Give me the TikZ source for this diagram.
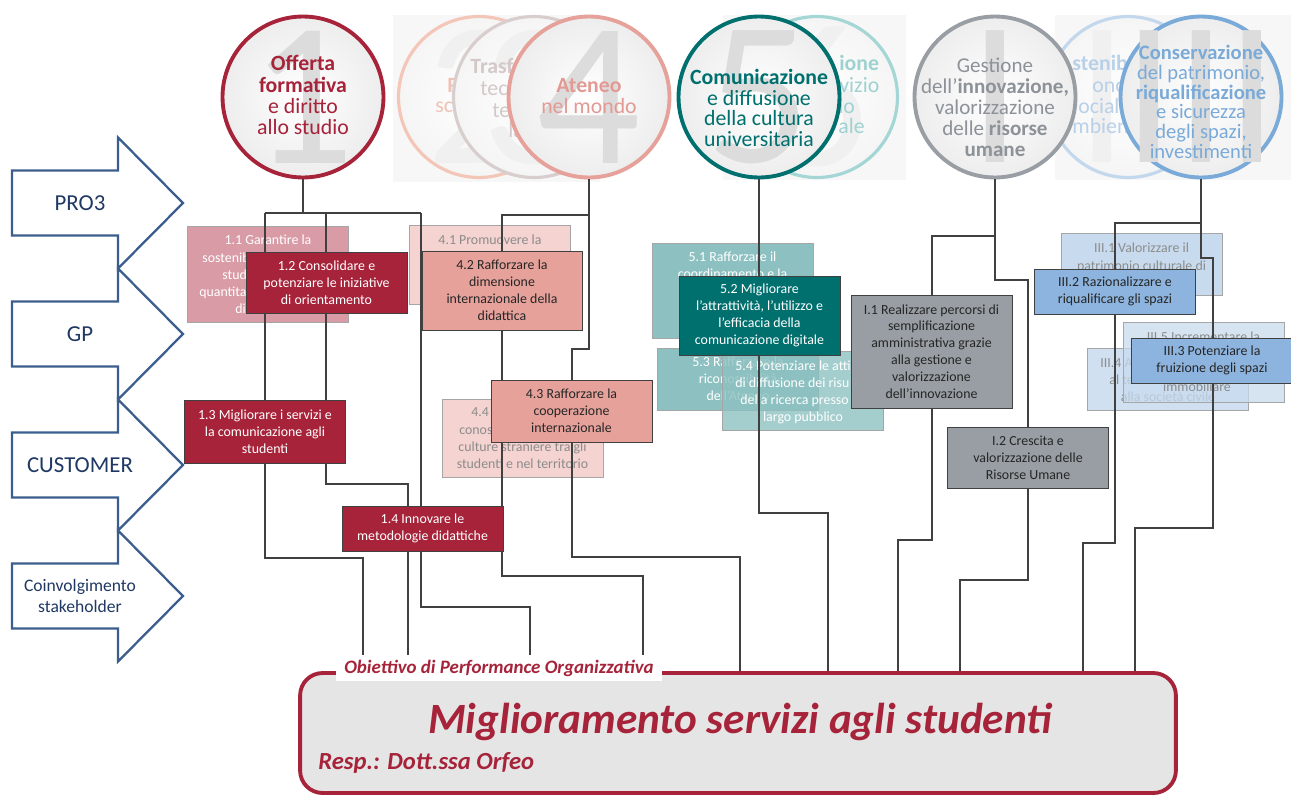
\documentclass[tikz,border=0pt]{standalone}
\usepackage{fontspec}
\setmainfont{Carlito}
\usetikzlibrary{positioning,calc}

\definecolor{unired}{HTML}{A6233A}
\definecolor{unipink}{HTML}{D99BA6}
\definecolor{unisalmon}{HTML}{E6A19B}
\definecolor{salmontxt}{HTML}{E39A94}
\definecolor{unisalmonlt}{HTML}{F4D3D1}
\definecolor{uniteal}{HTML}{00706F}
\definecolor{unitealt}{HTML}{8DC0C0}
\definecolor{unigray}{HTML}{989EA3}
\definecolor{unigraytxt}{HTML}{8C9297}
\definecolor{uniblue}{HTML}{8DB4DE}
\definecolor{unibluetxt}{HTML}{7AAAD8}
\definecolor{unibluelt}{HTML}{C8DBEE}
\definecolor{lanecol}{HTML}{3B5E8E}
\definecolor{lanetxt}{HTML}{1F3864}
\definecolor{wirecol}{HTML}{404040}
\definecolor{numcol}{HTML}{DCDCDC}
\definecolor{fadetxt}{HTML}{8C8C8C}
\definecolor{c2col}{HTML}{F3C6B8}
\definecolor{c2txt}{HTML}{F0C2B4}
\definecolor{c3col}{HTML}{D9CECE}
\definecolor{c3txt}{HTML}{D4C8C8}
\definecolor{c6col}{HTML}{A3D6D4}
\definecolor{c6txt}{HTML}{9ED2D0}
\definecolor{cIIcol}{HTML}{C3D8EC}
\definecolor{cIItxt}{HTML}{B9D0E9}

\newcommand{\boxfont}{\fontsize{7.9}{9.6}\selectfont}
\newcommand{\circfont}{\fontsize{12.4}{12}\selectfont}
\newcommand{\numfont}{\fontsize{117}{117}\selectfont}

\pgfdeclarelayer{back}
\pgfdeclarelayer{wires}
\pgfsetlayers{back,wires,main}

\tikzset{
    wire/.style={draw=wirecol, line width=1.6pt},
    lane/.style={draw=lanecol, line width=1.3pt, fill=white},
    lanetext/.style={text=lanetxt, align=center, inner sep=0pt},
    circ/.style={circle, minimum size=3.22cm, inner sep=0pt, line width=2.2pt, shade, shading=radial, inner color=white, outer color=black!7},
    circ faded/.style={circ, line width=1.8pt, outer color=black!4},
    numeral/.style={text=numcol, font=\numfont, inner sep=0pt},
    numeral faded/.style={numeral, text=black!6},
    circtext/.style={align=center, inner sep=0pt, font=\circfont},
    frag/.style={inner sep=0pt, anchor=base west, font=\circfont},
    goal/.style={rectangle, draw=black!75, line width=0.5pt, minimum width=3.22cm, align=center, inner sep=1pt, font=\boxfont, text=black!85},
    goal faded/.style={goal, draw=black!35},
    boxfrag/.style={inner sep=0pt, anchor=base west, font=\boxfont},
    boxline/.style={inner sep=0pt, anchor=base, font=\boxfont},
    objbox/.style={rectangle, rounded corners=0.45cm, draw=unired, line width=2.2pt, fill=black!10, minimum width=17.52cm, minimum height=2.4cm},
    objlabel/.style={fill=white, text=unired, font=\fontsize{10.8}{12}\selectfont\bfseries\itshape, minimum width=6.52cm, minimum height=0.52cm, inner sep=0pt}
}

\begin{document}
\begin{tikzpicture}[x=0.02cm, y=-0.02cm]
    \useasboundingbox (0,0) rectangle (1291,795);

    \begin{pgfonlayer}{back}
    \fill[black!3] (393,15) rectangle (600,182);
    \fill[black!3] (723,15) rectangle (906,180);
    \fill[black!3] (1055,15) rectangle (1291,180);

    % areas 2, 3, 4
    \node[circ faded, draw=c2col] (c2) at (479,97) {};
    \node[numeral faded] (n2) at (c2) {2};
    \node[frag, text=c2txt, font=\circfont\bfseries] (f2a) at (447,92) {R};
    \node[frag, text=c2txt] (f2b) at (435,112) {sc};

    \node[circ faded, draw=c3col] (c3) at (534,97) {};
    \node[numeral faded] (n3) at (c3) {3};
    \node[frag, text=c3txt, font=\circfont\bfseries] (f3a) at (470,73) {Trasf};
    \node[frag, text=c3txt] (f3b) at (480,95) {tec};
    \node[frag, text=c3txt] (f3c) at (492,117) {te};
    \node[frag, text=c3txt] (f3d) at (508,137) {la};

    \node[circ, draw=unisalmon] (c4) at (589,97) {};
    \node[numeral] (n4) at (c4) {4};
    \node[circtext, text=salmontxt] (t4) at (589,96) {\textbf{Ateneo}\\nel mondo};

    % area 1
    \node[circ, draw=unired] (c1) at (303,97) {};
    \node[numeral] (n1) at (c1) {1};
    \node[circtext, text=unired] (t1) at (303,95) {\textbf{Offerta}\\\textbf{formativa}\\e diritto\\allo studio};

    % areas 5, 6
    \node[circ faded, draw=c6col] (c6) at (817,97) {};
    \node[numeral faded] (n6) at (c6) {6};
    \node[frag, text=c6txt, font=\circfont\bfseries] (f6a) at (839,70) {ione};
    \node[frag, text=c6txt] (f6b) at (839,92) {vizio};
    \node[frag, text=c6txt] (f6c) at (838,113) {io};
    \node[frag, text=c6txt] (f6d) at (838,133) {ale};

    \node[circ, draw=uniteal] (c5) at (759,97) {};
    \node[numeral] (n5) at (c5) {5};
    \node[circtext, text=uniteal, font=\fontsize{12.4}{11.7}\selectfont] (t5) at (759,108) {\textbf{Comunicazione}\\e diffusione\\della cultura\\universitaria};

    % areas I, II, III
    \node[circ faded, draw=cIIcol] (cII) at (1128,97) {};
    \node[numeral faded] (nII) at (cII) {II};
    \node[frag, text=cIItxt, font=\circfont\bfseries] (fIIa) at (1072,70) {stenib};
    \node[frag, text=cIItxt] (fIIb) at (1092,92) {onom};
    \node[frag, text=cIItxt] (fIIc) at (1078,113) {ociale};
    \node[frag, text=cIItxt] (fIId) at (1072,133) {mbient};

    \node[circ, draw=unigray] (cI) at (995,97) {};
    \node[numeral] (nI) at (cI) {I};
    \node[circtext, text=unigraytxt, font=\fontsize{12}{12}\selectfont] (tI) at (995,107) {Gestione\\dell’\textbf{innovazione,}\\valorizzazione\\delle \textbf{risorse}\\\textbf{umane}};

    \node[circ, draw=unibluetxt] (cIII) at (1201,97) {};
    \node[numeral] (nIII) at (cIII) {III};
    \node[circtext, text=unibluetxt, font=\fontsize{11.7}{11.2}\selectfont] (tIII) at (1201,102) {\textbf{Conservazione}\\del patrimonio,\\\textbf{riqualificazione}\\e sicurezza\\degli spazi,\\investimenti};

    % faded goals
    \node[goal faded, fill=unipink, minimum height=1.92cm] (b11) at (268,274) {};
    \node[boxline, text=white] (b11a) at (268,244) {1.1 Garantire la};
    \node[boxfrag, text=white] (b11b) at (202,262) {sostenib};
    \node[boxfrag, text=white] (b11c) at (222,279) {stud};
    \node[boxfrag, text=white] (b11d) at (199,296) {quantita};
    \node[boxfrag, text=white] (b11e) at (235,313) {di};

    \node[goal faded, fill=unisalmonlt, minimum height=1.58cm] (b41) at (490,264.5) {};
    \node[boxline, text=fadetxt] (b41a) at (490,244) {4.1 Promuovere la};

    \node[goal faded, fill=unisalmonlt, minimum height=1.56cm] (b44) at (522.5,438) {};
    \node[boxfrag, text=fadetxt] (b44a) at (471,416) {4.4};
    \node[boxfrag, text=fadetxt] (b44b) at (459,434) {conos};
    \node[boxline, text=fadetxt] (b44c) at (522.5,451) {culture straniere tra gli};
    \node[boxline, text=fadetxt] (b44d) at (522.5,468) {studenti e nel territorio};

    \node[goal faded, fill=unitealt, minimum height=1.9cm] (b51) at (732.5,290.5) {};
    \node[boxline, text=white] (b51a) at (732.5,261) {5.1 Rafforzare il};
    \node[boxline, text=white] (b51b) at (732.5,278) {coordinamento e la};

    \node[goal faded, fill=unitealt, text=white, minimum height=1.24cm] (b53) at (738,379) {5.3 Rafforzare la\\riconoscibilità\\dell’Ateneo};

    \node[goal faded, fill=unitealt, fill opacity=0.8, minimum height=1.58cm] (b54) at (803,390.5) {};
    \node[boxfrag, text=white] (b54a) at (735,370) {5.4 Potenziare le atti};
    \node[boxfrag, text=white] (b54b) at (735,387) {di diffusione dei risu};
    \node[boxfrag, text=white] (b54c) at (740,404) {della ricerca presso};
    \node[boxline, text=white] (b54d) at (803,421) {largo pubblico};

    \node[goal faded, fill=unibluelt, minimum height=1.24cm] (bIII1) at (1141.5,264) {};
    \node[boxline, text=fadetxt] (bIII1a) at (1141.5,252) {III.1 Valorizzare il};
    \node[boxline, text=fadetxt] (bIII1b) at (1141.5,270) {patrimonio culturale di};

    \node[goal faded, fill=unibluelt, fill opacity=0.85, minimum height=1.24cm] (bIII4) at (1168,379) {};
    \node[boxfrag, text=fadetxt] (bIII4a) at (1100,367) {III.4 A};
    \node[boxfrag, text=fadetxt] (bIII4b) at (1109,384) {al te};
    \node[boxline, text=fadetxt] (bIII4c) at (1168,401) {alla società civile};

    \node[goal faded, fill=unibluelt, fill opacity=0.75, minimum height=1.6cm] (bIII5) at (1203.5,362) {};
    \node[boxline, text=fadetxt] (bIII5a) at (1203.5,341) {III.5 Incrementare la};
    \node[boxline, text=fadetxt] (bIII5b) at (1197,391) {immobiliare};
    \end{pgfonlayer}

    % active goals
    \node[goal, fill=unired, text=white, minimum height=1.22cm] (b12) at (326.5,282.5) {1.2 Consolidare e\\potenziare le iniziative\\di orientamento};
    \node[goal, fill=unired, text=white, minimum height=1.26cm] (b13) at (265,431.5) {1.3 Migliorare i servizi e\\la comunicazione agli\\studenti};
    \node[goal, fill=unired, text=white, minimum height=0.9cm] (b14) at (422.5,528.5) {1.4 Innovare le\\metodologie didattiche};
    \node[goal, fill=unisalmon, minimum width=3.2cm, minimum height=1.58cm] (b42) at (502,290.5) {4.2 Rafforzare la\\dimensione\\internazionale della\\didattica};
    \node[goal, fill=unisalmon, minimum height=1.24cm] (b43) at (571.5,411) {4.3 Rafforzare la\\cooperazione\\internazionale};
    \node[goal, fill=uniteal, text=white, minimum height=1.58cm] (b52) at (759.5,315.5) {5.2 Migliorare\\l’attrattività, l’utilizzo e\\l’efficacia della\\comunicazione digitale};
    \node[goal, fill=unigray, minimum height=2.26cm] (bI1) at (931.5,351.5) {I.1 Realizzare percorsi di\\semplificazione\\amministrativa grazie\\alla gestione e\\valorizzazione\\dell’innovazione};
    \node[goal, fill=unigray, minimum height=1.22cm] (bI2) at (1028,457.5) {I.2 Crescita e\\valorizzazione delle\\Risorse Umane};
    \node[goal, fill=uniblue, minimum height=0.9cm] (bIII2) at (1115,291.5) {III.2 Razionalizzare e\\riqualificare gli spazi};
    \node[goal, fill=uniblue, minimum height=0.9cm] (bIII3) at (1212,360.5) {III.3 Potenziare la\\fruizione degli spazi};

    % objective
    \node[objbox] (obj) at (738,733) {};
    \node[objlabel] (objlab) at (499,668) {Obiettivo di Performance Organizzativa};
    \node[text=unired, font=\fontsize{24.6}{28}\selectfont\bfseries\itshape] (title) at (740,722) {Miglioramento servizi agli studenti};
    \node[text=unired, font=\fontsize{14}{16}\selectfont\bfseries\itshape, anchor=west, inner sep=0pt] (resp) at (318,763) {Resp.: Dott.ssa Orfeo};

    % elbows of the connectors
    \coordinate (k1a) at (265,213);
    \coordinate (k1b) at (326,213);
    \coordinate (k1c) at (421,213);
    \coordinate (k4a) at (502,215);
    \coordinate (kIa) at (932,236);
    \coordinate (kIIIa) at (1115,223);
    \coordinate (e1) at (363,558);
    \coordinate (e2) at (408,484);
    \coordinate (e4) at (530,607);
    \coordinate (e5) at (572,349);
    \coordinate (e6) at (643,576);
    \coordinate (e7) at (740,557);
    \coordinate (e8) at (828,513);
    \coordinate (e9) at (1028,280);
    \coordinate (e10) at (898,540);
    \coordinate (e11) at (960,580);
    \coordinate (e12) at (1213,258);
    \coordinate (e13) at (1083,543);
    \coordinate (e14) at (1135,528);

    \begin{pgfonlayer}{wires}
    % area 1
    \draw[wire] (c1.south) -- (c1.south |- k1a);
    \draw[wire] (k1a) -- (k1c);
    \draw[wire] (k1a) -- (k1a |- b12.north);
    \draw[wire] (k1b) -- (k1b |- b12.north);
    \draw[wire] (k1c) -- (k1c |- b14.north);
    \draw[wire] (k1a |- b12.south) -- (k1a |- b13.north);
    \draw[wire] (k1b |- b12.south) -- (k1b |- b13.north);
    \draw[wire] (k1a |- b13.south) |- (e1) -- (e1 |- obj.north);
    \draw[wire] (k1b |- b13.south) |- (e2) -- (e2 |- b14.north);
    \draw[wire] (e2 |- b14.south) -- (e2 |- obj.north);
    \draw[wire] (k1c |- b14.south) |- (e4) -- (e4 |- obj.north);
    % area 4
    \draw[wire] (c4.south) |- (k4a) -- (k4a |- b42.north);
    \draw[wire] (c4.south |- k4a) |- (e5) -- (e5 |- b43.north);
    \draw[wire] (k4a |- b42.south) |- (e6) -- (e6 |- obj.north);
    \draw[wire] (e5 |- b43.south) |- (e7) -- (e7 |- obj.north);
    % area 5
    \draw[wire] (c5.south) -- (c5.south |- b52.north);
    \draw[wire] (c5.south |- b52.south) |- (e8) -- (e8 |- obj.north);
    % area I
    \draw[wire] (cI.south) |- (kIa) -- (kIa |- bI1.north);
    \draw[wire] (cI.south |- kIa) |- (e9) -- (e9 |- bI2.north);
    \draw[wire] (kIa |- bI1.south) |- (e10) -- (e10 |- obj.north);
    \draw[wire] (e9 |- bI2.south) |- (e11) -- (e11 |- obj.north);
    % area III
    \draw[wire] (cIII.south) |- (kIIIa) -- (kIIIa |- bIII2.north);
    \draw[wire] (cIII.south |- kIIIa) |- (e12) -- (e12 |- bIII3.north);
    \draw[wire] (kIIIa |- bIII2.south) |- (e13) -- (e13 |- obj.north);
    \draw[wire] (e12 |- bIII3.south) |- (e14) -- (e14 |- obj.north);
    \end{pgfonlayer}

    % perspectives
    \foreach \lab/\fs/\bs [count=\i from 0] in {PRO3/13/15, GP/13/15, CUSTOMER/13/15, {Coinvolgimento\\stakeholder}/10/12} {
        \pgfmathsetmacro\ly{203+131*\i}
        \draw[lane] (12,\ly-32.5) -- (118,\ly-32.5) -- (118,\ly-65.5) -- (183,\ly)
            -- (118,\ly+65.5) -- (118,\ly+32.5) -- (12,\ly+32.5) -- cycle;
        \node[lanetext, font=\fontsize{\fs}{\bs}\selectfont] (lane\i) at (80,\ly) {\lab};
    }
\end{tikzpicture}
\end{document}
